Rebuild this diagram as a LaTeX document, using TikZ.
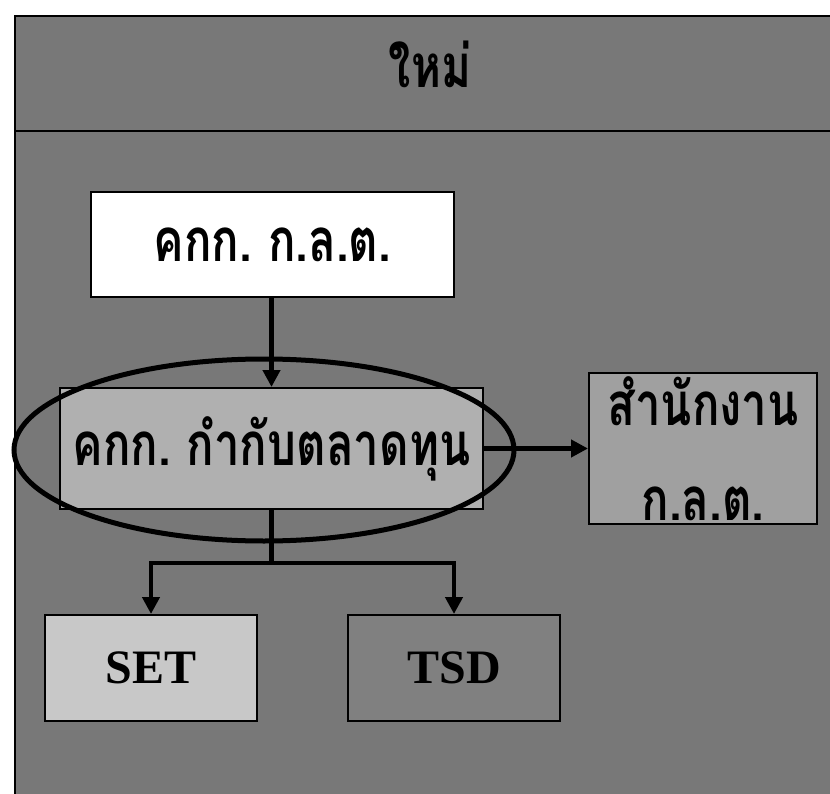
\documentclass[tikz,border=0pt]{standalone}
\usepackage{fontspec}
\setmainfont{Liberation Serif}
\newfontfamily\thai[Script=Thai, FakeStretch=0.76, WordSpace=0.7]{Loma}
\usetikzlibrary{arrows.meta,shapes.geometric}
\definecolor{bgc}{HTML}{787878}
\definecolor{midc}{HTML}{B0B0B0}
\definecolor{rightc}{HTML}{A0A0A0}
\definecolor{setc}{HTML}{C8C8C8}
\definecolor{tsdc}{HTML}{808080}
\tikzset{
  box/.style={draw=black, line width=2pt, rectangle, inner sep=0pt},
  thaitxt/.style={font=\thai\bfseries\fontsize{60}{90}\selectfont, text=black},
  lattxt/.style={font=\bfseries\fontsize{48}{56}\selectfont, text=black},
  conn/.style={line width=4.5pt, draw=black},
  tip/.style={-{Triangle[length=17pt,width=17pt]}},
}
\begin{document}
\begin{tikzpicture}[x=1pt,y=-1pt]
\useasboundingbox (0,0) rectangle (830,794);
\clip (0,0) rectangle (830,794);
\fill[white] (0,0) rectangle (830,794);
\draw[fill=bgc, line width=2pt] (15,16) rectangle (860,830);
\draw[line width=2pt] (15,131) -- (860,131);
\node[thaitxt] (title) at (430,64) {ใหม่};
\node[box, fill=white, minimum width=363pt, minimum height=105pt, thaitxt] (top) at (272.5,244.5) {คกก. ก.ล.ต.};
\node[box, fill=midc, minimum width=423pt, minimum height=121pt, thaitxt] (mid) at (271.5,448.5) {คกก. กำกับตลาดทุน};
\node[box, fill=rightc, minimum width=228pt, minimum height=151pt, thaitxt, align=center] (office) at (703,448.5) {\raisebox{5pt}{สำนักงาน}\\ก.ล.ต.};
\node[box, fill=setc, minimum width=212pt, minimum height=106pt, lattxt] (set) at (151,668) {SET};
\node[box, fill=tsdc, minimum width=212pt, minimum height=106pt, lattxt] (tsd) at (454,668) {TSD};
\node[ellipse, draw=black, line width=5pt, minimum width=500pt, minimum height=182pt, inner sep=0pt] (oval) at (264,450) {};
\draw[conn, tip] (top.south -| mid.north) -- (mid.north);
\draw[conn, tip] (mid.east) -- (office.west);
\draw[conn] (mid.south) -- ++(0,53) coordinate (split);
\draw[conn, tip] (split) -| (set.north);
\draw[conn, tip] (split) -| (tsd.north);
\end{tikzpicture}
\end{document}
